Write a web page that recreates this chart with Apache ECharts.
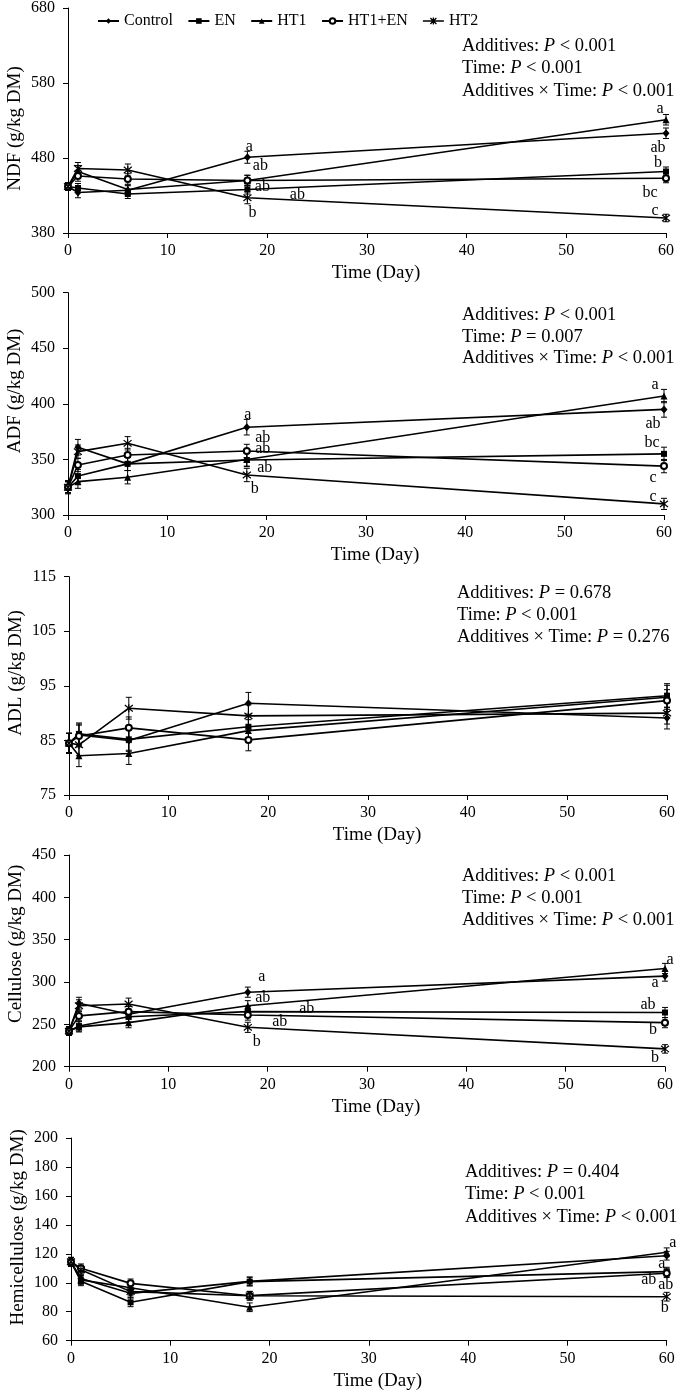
<!DOCTYPE html>
<html><head><meta charset="utf-8">
<script src="https://cdn.jsdelivr.net/npm/echarts@6/dist/echarts.min.js"></script>
<style>html,body{margin:0;padding:0;background:#fff}#c{width:685px;height:1393px}</style>
</head><body><div id="c"></div>
<script>
// ---------------- DATA ----------------
const days = [0, 1, 6, 18, 60];
const groups = ['Control', 'EN', 'HT1', 'HT1+EN', 'HT2'];

// NDF (g/kg DM)
const ndfControl = [442, 434, 437, 481, 513];
const ndfEN      = [442, 440, 432, 438, 462];
const ndfHT1     = [442, 462, 438, 450, 531];
const ndfHT1EN   = [442, 456, 452, 450, 453];
const ndfHT2     = [442, 466, 464, 427, 400];
const ndfErr = [[5, 7, 6, 8, 7], [5, 6, 6, 6, 6], [5, 8, 6, 7, 7], [5, 7, 7, 7, 6], [5, 8, 8, 8, 5]];
const ndfLetters = [['', '', '', 'a', 'ab'], ['', '', '', 'ab', 'b'], ['', '', '', 'ab', 'a'], ['', '', '', 'ab', 'bc'], ['', '', '', 'b', 'c']];
const ndfStats = [['Additives', '< 0.001'], ['Time', '< 0.001'], ['Additives × Time', '< 0.001']];

// ADF (g/kg DM)
const adfControl = [325, 361, 346, 379, 395];
const adfEN      = [325, 335, 346, 349.5, 355];
const adfHT1     = [325, 330, 334, 350, 407];
const adfHT1EN   = [325, 345, 354, 357.6, 344];
const adfHT2     = [325, 357, 364.5, 336, 310];
const adfErr = [[6, 7, 6, 7, 7], [5, 6, 6, 6, 6], [5, 6, 6, 6, 6], [5, 6, 6, 6, 6], [5, 6, 6, 6, 5]];
const adfLetters = [['', '', '', 'a', 'ab'], ['', '', '', 'ab', 'bc'], ['', '', '', 'ab', 'a'], ['', '', '', 'ab', 'c'], ['', '', '', 'b', 'c']];
const adfStats = [['Additives', '< 0.001'], ['Time', '= 0.007'], ['Additives × Time', '< 0.001']];

// ADL (g/kg DM)
const adlControl = [84.5, 86.0, 85.0, 91.8, 89.1];
const adlEN      = [84.5, 86.2, 85.2, 87.5, 93.2];
const adlHT1     = [84.5, 82.2, 82.6, 86.8, 92.9];
const adlHT1EN   = [84.5, 85.8, 87.3, 85.1, 92.3];
const adlHT2     = [84.5, 84.2, 90.9, 89.5, 90.0];
const adlErr = [[1.8, 2, 2, 2, 2], [1.8, 2, 2, 2, 2.2], [1.8, 2, 2, 2, 2.2], [1.8, 2, 2, 2, 2], [1.8, 2, 2, 2, 2]];
const adlLetters = [['', '', '', '', ''], ['', '', '', '', ''], ['', '', '', '', ''], ['', '', '', '', ''], ['', '', '', '', '']];
const adlStats = [['Additives', '= 0.678'], ['Time', '< 0.001'], ['Additives × Time', '= 0.276']];

// Cellulose (g/kg DM)
const celControl = [242, 275, 262, 288, 307];
const celEN      = [242, 248, 259, 265, 264];
const celHT1     = [242, 247, 252, 272, 316];
const celHT1EN   = [242, 260, 265, 261, 252];
const celHT2     = [242, 272, 274, 246.5, 221];
const celErr = [[5, 7, 6, 6, 6], [5, 6, 6, 6, 6], [5, 6, 6, 6, 6], [5, 6, 6, 6, 6], [5, 7, 7, 6, 5]];
const celLetters = [['', '', '', 'a', 'a'], ['', '', '', 'ab', 'ab'], ['', '', '', 'ab', 'a'], ['', '', '', 'ab', 'b'], ['', '', '', 'b', 'b']];
const celStats = [['Additives', '< 0.001'], ['Time', '< 0.001'], ['Additives × Time', '< 0.001']];

// Hemicellulose (g/kg DM)
const hemControl = [114.5, 103, 92.7, 101, 118.7];
const hemEN      = [114.5, 101, 86.5, 100.8, 107.7];
const hemHT1     = [114.5, 102, 96.6, 83.1, 121.1];
const hemHT1EN   = [114.5, 110, 99.6, 91.1, 106.6];
const hemHT2     = [114.5, 109, 93.9, 91, 90.4];
const hemErr = [[3, 3, 3, 3, 3], [3, 3, 3, 3, 3], [3, 3, 3, 3, 3], [3, 3, 3, 3, 3], [3, 3, 3, 3, 3]];
const hemLetters = [['', '', '', '', 'a'], ['', '', '', '', 'ab'], ['', '', '', '', 'a'], ['', '', '', '', 'ab'], ['', '', '', '', 'b']];
const hemStats = [['Additives', '= 0.404'], ['Time', '< 0.001'], ['Additives × Time', '< 0.001']];

const yTitles = ['NDF (g/kg DM)', 'ADF (g/kg DM)', 'ADL (g/kg DM)', 'Cellulose (g/kg DM)', 'Hemicellulose (g/kg DM)'];
const yRanges = [[380, 680, 100], [300, 500, 50], [75, 115, 10], [200, 450, 50], [60, 200, 20]];
const xTitle = 'Time (Day)';

// ---------------- LAYOUT (positions / styles) ----------------
const FF = 'Liberation Serif, Times New Roman, serif';
const gridBoxes = [
  {left: 68, top: 8, width: 598, height: 225},
  {left: 68, top: 292.7, width: 596, height: 222.3},
  {left: 69, top: 576.7, width: 598, height: 218.3},
  {left: 69, top: 855, width: 596, height: 211.7},
  {left: 71, top: 1138, width: 595.7, height: 202.7}
];
const yNamePad = [[0, 16, 0, 0], [0, 0, 0, 26], [0, 0, 0, 26], [0, 0, 0, 34], [0, 0, 0, 24]];
const statPos = [[462, 46, 22.5], [462, 315, 21.7], [457, 593.3, 21.7], [462, 876, 22], [465, 1171.7, 22.5]];
// letter label offsets [day18, day60] per group, per panel
const letterOff = [
  [[[2, -10], [-8, 15]], [[50, 5.5], [-8, -8.5]], [[13, -14.5], [-6, -11]], [[15, 6.5], [-16, 15]], [[5, 15], [-11, -7]]],
  [[[1, -12], [-11, 14]], [[18, 8], [-12, -11]], [[16, -11], [-9, -11]], [[16, -13], [-11, 12]], [[8, 14], [-11, -7]]],
  [[[0, 0], [0, 0]], [[0, 0], [0, 0]], [[0, 0], [0, 0]], [[0, 0], [0, 0]], [[0, 0], [0, 0]]],
  [[[14, -15.5], [-10, 7]], [[59, -2.7], [-17, -7.5]], [[15, -8], [5, -9]], [[32, 7], [-12, 7]], [[9, 14], [-10, 9]]],
  [[[0, 0], [-5, 8]], [[0, 0], [-18, 8]], [[0, 0], [6, -9]], [[0, 0], [-1, 12]], [[0, 0], [-2, 11]]]
];
const symbols = [
  {symbol: 'diamond', symbolSize: [7, 8], itemStyle: {color: '#000', borderWidth: 0}},
  {symbol: 'rect', symbolSize: 6, itemStyle: {color: '#000', borderWidth: 0}},
  {symbol: 'triangle', symbolSize: 7, itemStyle: {color: '#000', borderWidth: 0}},
  {symbol: 'emptyCircle', symbolSize: 6, itemStyle: {color: '#000', borderColor: '#000', borderWidth: 1.1}},
  {symbol: 'path://M1,1L9,9M9,1L1,9M5,0L5,10', symbolSize: 8, itemStyle: {color: '#000', borderColor: '#000', borderWidth: 1.2}}
];
const ht2LegendIcon = 'path://M0,3.5L21,3.5M7.5,0.5L13.5,6.5M13.5,0.5L7.5,6.5M10.5,0L10.5,7';

const panels = [
  {vals: [ndfControl, ndfEN, ndfHT1, ndfHT1EN, ndfHT2], err: ndfErr, letters: ndfLetters, stats: ndfStats},
  {vals: [adfControl, adfEN, adfHT1, adfHT1EN, adfHT2], err: adfErr, letters: adfLetters, stats: adfStats},
  {vals: [adlControl, adlEN, adlHT1, adlHT1EN, adlHT2], err: adlErr, letters: adlLetters, stats: adlStats},
  {vals: [celControl, celEN, celHT1, celHT1EN, celHT2], err: celErr, letters: celLetters, stats: celStats},
  {vals: [hemControl, hemEN, hemHT1, hemHT1EN, hemHT2], err: hemErr, letters: hemLetters, stats: hemStats}
];

function errRender(params, api) {
  const x = api.value(0), y = api.value(1), e = api.value(2);
  const p1 = api.coord([x, y + e]), p2 = api.coord([x, y - e]);
  const w = 3, st = {stroke: '#000', lineWidth: 1};
  return {type: 'group', children: [
    {type: 'line', shape: {x1: p1[0], y1: p1[1], x2: p2[0], y2: p2[1]}, style: st},
    {type: 'line', shape: {x1: p1[0] - w, y1: p1[1], x2: p1[0] + w, y2: p1[1]}, style: st},
    {type: 'line', shape: {x1: p2[0] - w, y1: p2[1], x2: p2[0] + w, y2: p2[1]}, style: st}
  ]};
}

function makeLetterRender(meta) {
  return function (params, api) {
    const m = meta[params.dataIndex];
    const p = api.coord([api.value(0), api.value(1)]);
    return {type: 'text', x: p[0] + m.off[0], y: p[1] + m.off[1], silent: true,
      style: {text: m.text, fill: '#000', fontFamily: FF, fontSize: 16, align: 'center', verticalAlign: 'middle'}};
  };
}

const grids = [], xAxes = [], yAxes = [], series = [], graphics = [];
panels.forEach((P, k) => {
  grids.push(Object.assign({containLabel: false, outerBoundsMode: 'none'}, gridBoxes[k]));
  xAxes.push({
    type: 'value', gridIndex: k, min: 0, max: 60, interval: 10,
    name: xTitle, nameLocation: 'middle', nameGap: 31, nameMoveOverlap: false,
    nameTextStyle: {fontFamily: FF, fontSize: 19, color: '#000', padding: [0, 0, 0, 18]},
    axisLine: {show: true, onZero: false, lineStyle: {color: '#000', width: 1}},
    axisTick: {show: true, inside: false, length: 5, lineStyle: {color: '#000', width: 1}},
    axisLabel: {fontFamily: FF, fontSize: 16, color: '#000', margin: 10},
    splitLine: {show: false}
  });
  const r = yRanges[k];
  yAxes.push({
    type: 'value', gridIndex: k, min: r[0], max: r[1], interval: r[2],
    name: yTitles[k], nameLocation: 'middle', nameGap: 43, nameMoveOverlap: false,
    nameTextStyle: {fontFamily: FF, fontSize: 19, color: '#000', padding: yNamePad[k]},
    axisLine: {show: true, onZero: false, lineStyle: {color: '#000', width: 1}},
    axisTick: {show: true, inside: false, length: 5, lineStyle: {color: '#000', width: 1}},
    axisLabel: {fontFamily: FF, fontSize: 16, color: '#000', margin: 13},
    splitLine: {show: false}
  });
  const errData = [], letterData = [], letterMeta = [];
  P.vals.forEach((vals, s) => {
    series.push(Object.assign({
      type: 'line', name: groups[s], xAxisIndex: k, yAxisIndex: k,
      data: days.map((d, i) => [d, vals[i]]),
      showSymbol: true, lineStyle: {color: '#000', width: 1.6},
      z: 3, silent: true
    }, symbols[s]));
    vals.forEach((v, i) => {
      errData.push([days[i], v, P.err[s][i]]);
      const t = P.letters[s][i];
      if (t) {
        letterData.push([days[i], v]);
        letterMeta.push({text: t, off: letterOff[k][s][i === 4 ? 1 : 0]});
      }
    });
  });
  series.push({type: 'custom', name: 'err' + k, xAxisIndex: k, yAxisIndex: k,
    renderItem: errRender, data: errData, encode: {x: 0, y: 1}, z: 2, silent: true});
  if (letterData.length) {
    series.push({type: 'custom', name: 'sig' + k, xAxisIndex: k, yAxisIndex: k,
      renderItem: makeLetterRender(letterMeta), data: letterData, encode: {x: 0, y: 1},
      z: 4, silent: true, clip: false});
  }
  const sp = statPos[k];
  P.stats.forEach((st, j) => {
    graphics.push({
      type: 'text', x: sp[0], y: sp[1] + j * sp[2], silent: true,
      style: {
        text: '{n|' + st[0] + ': }{i|P}{n| ' + st[1] + '}',
        verticalAlign: 'middle', align: 'left',
        rich: {
          n: {fontFamily: FF, fontSize: 18.5, fill: '#000'},
          i: {fontFamily: FF, fontSize: 18.5, fontStyle: 'italic', fill: '#000'}
        }
      }
    });
  });
});

const legendData = groups.map(g => g === 'HT2'
  ? {name: g, icon: ht2LegendIcon, itemStyle: {color: '#000', borderColor: '#000', borderWidth: 1.3}}
  : {name: g});

const chart = echarts.init(document.getElementById('c'), null, {renderer: 'canvas'});
chart.setOption({
  animation: false,
  backgroundColor: '#fff',
  legend: {
    data: legendData, left: 97, top: 13, padding: 0, itemWidth: 21, itemHeight: 7, itemGap: 14.5,
    textStyle: {fontFamily: FF, fontSize: 16, color: '#000'}
  },
  grid: grids, xAxis: xAxes, yAxis: yAxes, series: series, graphic: graphics
});
</script></body></html>
